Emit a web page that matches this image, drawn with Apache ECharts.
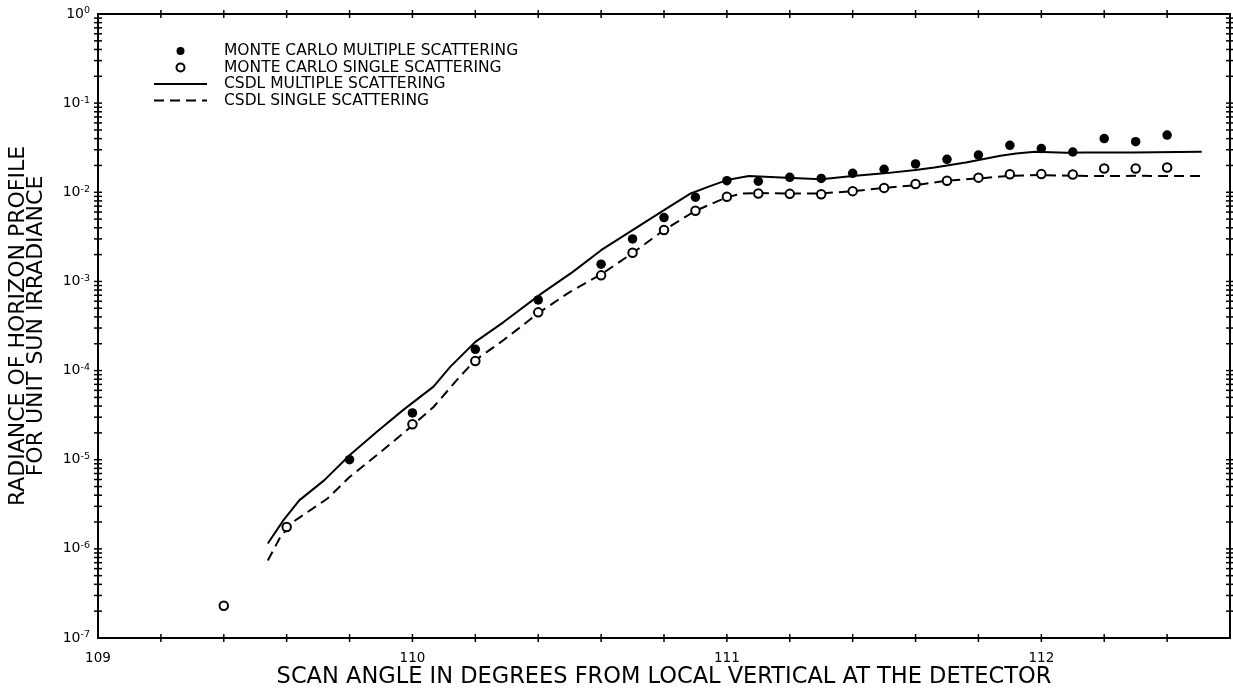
<!DOCTYPE html>
<html>
<head>
<meta charset="utf-8">
<script src="https://cdn.jsdelivr.net/npm/echarts@6/dist/echarts.min.js"></script>
<style>
  html, body { margin: 0; padding: 0; background: #fff; }
  #main { width: 1233px; height: 690px; }
</style>
</head>
<body>
<div id="main"></div>
<script>
// Monte Carlo points (scan angle in degrees, radiance)
var mcMultipleAngle = [109.8, 110.0, 110.2, 110.4, 110.6, 110.7, 110.8, 110.9, 111.0, 111.1, 111.2, 111.3,
    111.4, 111.5, 111.6, 111.7, 111.8, 111.9, 112.0, 112.1, 112.2, 112.3, 112.4];
var mcMultipleValue = [1.0e-5, 3.35e-5, 1.73e-4, 6.2e-4, 1.56e-3, 3.0e-3, 5.2e-3, 8.8e-3, 1.35e-2, 1.33e-2, 1.47e-2, 1.43e-2,
    1.63e-2, 1.81e-2, 2.08e-2, 2.34e-2, 2.62e-2, 3.36e-2, 3.1e-2, 2.83e-2, 4.0e-2, 3.7e-2, 4.38e-2];

var mcSingleAngle = [109.4, 109.6, 110.0, 110.2, 110.4, 110.6, 110.7, 110.8, 110.9, 111.0, 111.1, 111.2, 111.3,
    111.4, 111.5, 111.6, 111.7, 111.8, 111.9, 112.0, 112.1, 112.2, 112.3, 112.4];
var mcSingleValue = [2.3e-7, 1.76e-6, 2.5e-5, 1.28e-4, 4.5e-4, 1.17e-3, 2.1e-3, 3.77e-3, 6.2e-3, 8.9e-3, 9.7e-3, 9.6e-3, 9.5e-3,
    1.03e-2, 1.12e-2, 1.24e-2, 1.35e-2, 1.46e-2, 1.59e-2, 1.6e-2, 1.58e-2, 1.85e-2, 1.85e-2, 1.9e-2];

// CSDL curves
var csdlMultipleAngle = [109.54, 109.59, 109.64, 109.72, 109.80, 109.886, 109.97, 110.067, 110.12, 110.20, 110.29, 110.41,
    110.51, 110.60, 110.70, 110.80, 110.885, 110.94, 111.00, 111.07, 111.19, 111.30, 111.40, 111.50, 111.60,
    111.66, 111.76, 111.87, 111.92, 111.98, 112.08, 112.14, 112.29, 112.51];
var csdlMultipleValue = [1.15e-6, 2.1e-6, 3.5e-6, 5.9e-6, 1.12e-5, 2.05e-5, 3.6e-5, 6.6e-5, 1.1e-4, 2.1e-4, 3.5e-4, 7.3e-4,
    1.28e-3, 2.24e-3, 3.77e-3, 6.3e-3, 9.7e-3, 1.15e-2, 1.37e-2, 1.52e-2, 1.46e-2, 1.40e-2, 1.52e-2, 1.63e-2, 1.78e-2,
    1.9e-2, 2.16e-2, 2.57e-2, 2.73e-2, 2.85e-2, 2.78e-2, 2.8e-2, 2.79e-2, 2.85e-2];

var csdlSingleAngle = [109.54, 109.58, 109.62, 109.73, 109.80, 109.886, 109.97, 110.067, 110.15, 110.20, 110.29, 110.40,
    110.50, 110.60, 110.70, 110.80, 110.90, 111.00, 111.05, 111.10, 111.20, 111.30, 111.40, 111.50, 111.60,
    111.70, 111.80, 111.90, 112.00, 112.10, 112.20, 112.30, 112.51];
var csdlSingleValue = [7.4e-7, 1.36e-6, 2.0e-6, 3.67e-6, 6.4e-6, 1.12e-5, 1.97e-5, 3.9e-5, 8.5e-5, 1.31e-4, 2.2e-4, 4.4e-4,
    7.6e-4, 1.2e-3, 2.08e-3, 3.77e-3, 6.2e-3, 8.8e-3, 9.7e-3, 9.8e-3, 9.7e-3, 9.7e-3, 1.03e-2, 1.12e-2, 1.2e-2,
    1.35e-2, 1.43e-2, 1.53e-2, 1.56e-2, 1.53e-2, 1.52e-2, 1.53e-2, 1.52e-2];

var xMin = 109, xMax = 112.6, xStep = 0.2;
var yMin = 1e-7, yMax = 1;

function pairs(xs, ys) {
    return xs.map(function (x, i) { return [x, ys[i]]; });
}

// tick marks crossing the frame: [x, y, 0 = vertical / 1 = horizontal]
var tickMarks = [];
for (var i = 1; xMin + i * xStep < xMax - 1e-9; i++) {
    var tx = +(xMin + i * xStep).toFixed(1);
    tickMarks.push([tx, yMin, 0], [tx, yMax, 0]);
}
for (var d = -7; d < 0; d++) {
    for (var k = 1; k <= 9; k++) {
        if (d === -7 && k === 1) continue;
        var ty = k * Math.pow(10, d);
        tickMarks.push([xMin, ty, 1], [xMax, ty, 1]);
    }
}

var font = 'DejaVu Sans';
var chart = echarts.init(document.getElementById('main'));

var hideDot = { opacity: 0, borderWidth: 0 };

var option = {
    animation: false,
    backgroundColor: '#fff',
    textStyle: { fontFamily: font, color: '#000' },
    grid: {
        left: 98, right: 3, top: 14, bottom: 52,
        outerBoundsMode: 'none',
        containLabel: false,
        show: true, borderColor: '#000', borderWidth: 2
    },
    legend: {
        orient: 'vertical',
        left: 148,
        top: 38,
        itemWidth: 53,
        itemHeight: 8,
        itemGap: 0.5,
        textStyle: { fontFamily: font, fontSize: 15.5, color: '#000', lineHeight: 16, padding: [0, 0, 0, 12] },
        data: [
            { name: 'MONTE CARLO MULTIPLE SCATTERING' },
            { name: 'MONTE CARLO SINGLE SCATTERING' },
            { name: 'CSDL MULTIPLE SCATTERING', itemStyle: hideDot },
            { name: 'CSDL SINGLE SCATTERING', itemStyle: hideDot }
        ]
    },
    xAxis: {
        type: 'value',
        min: xMin,
        max: xMax,
        interval: xStep,
        name: 'SCAN ANGLE IN DEGREES FROM LOCAL VERTICAL AT THE DETECTOR',
        nameLocation: 'middle',
        nameGap: 28,
        nameMoveOverlap: false,
        nameTextStyle: { fontFamily: font, fontSize: 22.5, color: '#000' },
        axisLine: { show: false },
        axisTick: { show: false },
        splitLine: { show: false },
        axisLabel: {
            margin: 13,
            fontSize: 13.5,
            color: '#000',
            showMinLabel: true,
            formatter: function (v) {
                var r = Math.round(v);
                return Math.abs(v - r) < 1e-6 ? String(r) : '';
            }
        }
    },
    yAxis: {
        type: 'log',
        logBase: 10,
        min: yMin,
        max: yMax,
        interval: 1,
        name: 'RADIANCE OF HORIZON PROFILE\nFOR UNIT SUN IRRADIANCE',
        nameLocation: 'middle',
        nameGap: 53,
        nameTextStyle: { fontFamily: font, fontSize: 22, color: '#000', lineHeight: 18 },
        axisLine: { show: false },
        axisTick: { show: false },
        splitLine: { show: false },
        axisLabel: {
            margin: 8,
            color: '#000',
            formatter: function (v) {
                var e = Math.round(Math.log10(v));
                return '{b|10}{s|' + e + '}';
            },
            rich: {
                b: { fontFamily: font, fontSize: 14, color: '#000' },
                s: { fontFamily: font, fontSize: 9.5, color: '#000', verticalAlign: 'top', padding: [0, 0, 6, 0] }
            }
        }
    },
    series: [
        {
            name: 'frame ticks',
            type: 'custom',
            clip: false,
            silent: true,
            z: 1,
            data: tickMarks,
            renderItem: function (params, api) {
                var p = api.coord([api.value(0), api.value(1)]);
                var h = 4;
                var shape = api.value(2) === 0
                    ? { x1: p[0], y1: p[1] - h, x2: p[0], y2: p[1] + h }
                    : { x1: p[0] - h, y1: p[1], x2: p[0] + h, y2: p[1] };
                return { type: 'line', shape: shape, style: { stroke: '#000', lineWidth: 1.5 } };
            }
        },
        {
            name: 'CSDL MULTIPLE SCATTERING',
            type: 'line',
            symbol: 'none',
            z: 2,
            lineStyle: { color: '#000', width: 2 },
            itemStyle: { color: '#000' },
            data: pairs(csdlMultipleAngle, csdlMultipleValue)
        },
        {
            name: 'CSDL SINGLE SCATTERING',
            type: 'line',
            symbol: 'none',
            z: 2,
            lineStyle: { color: '#000', width: 2, type: [10, 6] },
            itemStyle: { color: '#000' },
            data: pairs(csdlSingleAngle, csdlSingleValue)
        },
        {
            name: 'MONTE CARLO MULTIPLE SCATTERING',
            type: 'scatter',
            symbol: 'circle',
            symbolSize: 9.5,
            z: 3,
            itemStyle: { color: '#000', opacity: 1 },
            data: pairs(mcMultipleAngle, mcMultipleValue)
        },
        {
            name: 'MONTE CARLO SINGLE SCATTERING',
            type: 'scatter',
            symbol: 'circle',
            symbolSize: 8.5,
            z: 3,
            itemStyle: { color: '#fff', borderColor: '#000', borderWidth: 2, opacity: 1 },
            data: pairs(mcSingleAngle, mcSingleValue)
        }
    ]
};

chart.setOption(option);
</script>
</body>
</html>
